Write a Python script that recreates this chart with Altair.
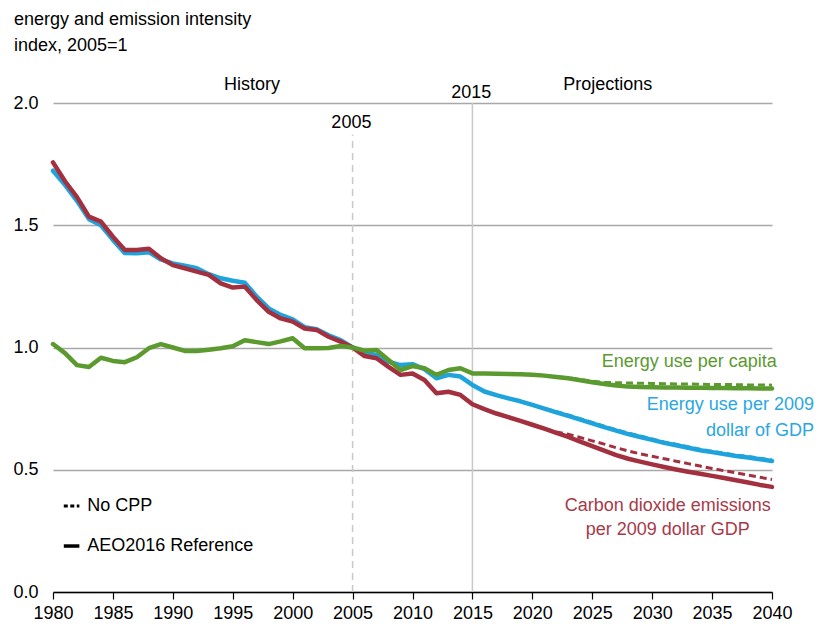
import altair as alt
import pandas as pd

# ---------------- data ----------------
years_hist = list(range(1980, 2016))
percap_hist = [1.014, 0.977, 0.928, 0.920, 0.958, 0.945, 0.940, 0.960, 0.997, 1.014,
               1.000, 0.986, 0.986, 0.991, 0.997, 1.005, 1.030, 1.022, 1.014, 1.025,
               1.038, 0.997, 0.997, 0.998, 1.006, 1.000, 0.987, 0.990, 0.949, 0.908,
               0.924, 0.915, 0.888, 0.908, 0.915, 0.894]
gdp_hist = [1.723, 1.665, 1.600, 1.525, 1.500, 1.440, 1.386, 1.385, 1.390, 1.360,
            1.344, 1.335, 1.324, 1.300, 1.283, 1.273, 1.265, 1.208, 1.160, 1.133,
            1.115, 1.083, 1.075, 1.050, 1.030, 1.000, 0.980, 0.969, 0.942, 0.928,
            0.932, 0.911, 0.874, 0.888, 0.881, 0.847]
co2_hist = [1.757, 1.680, 1.615, 1.535, 1.515, 1.453, 1.399, 1.399, 1.404, 1.365,
            1.337, 1.324, 1.310, 1.297, 1.262, 1.245, 1.249, 1.194, 1.146, 1.119,
            1.106, 1.078, 1.072, 1.044, 1.024, 1.000, 0.965, 0.956, 0.921, 0.888,
            0.894, 0.867, 0.813, 0.819, 0.806, 0.768]

years_proj = list(range(2015, 2041))
percap_ref = [0.894, 0.894, 0.893, 0.892, 0.891, 0.889, 0.885, 0.879, 0.874, 0.866,
              0.858, 0.851, 0.845, 0.840, 0.838, 0.837, 0.836, 0.836, 0.835, 0.835,
              0.834, 0.834, 0.833, 0.833, 0.832, 0.832]
percap_nocpp = [0.894, 0.894, 0.893, 0.892, 0.891, 0.889, 0.885, 0.880, 0.876, 0.869,
                0.862, 0.858, 0.856, 0.855, 0.854, 0.853, 0.852, 0.851, 0.851, 0.850,
                0.849, 0.849, 0.848, 0.847, 0.847, 0.846]
gdp_ref = [0.847, 0.820, 0.805, 0.792, 0.780, 0.765, 0.750, 0.735, 0.720, 0.705,
           0.690, 0.674, 0.660, 0.646, 0.634, 0.622, 0.610, 0.600, 0.590, 0.580,
           0.572, 0.564, 0.556, 0.550, 0.543, 0.536]
gdp_nocpp = [0.847, 0.820, 0.805, 0.792, 0.780, 0.765, 0.751, 0.738, 0.724, 0.709,
             0.694, 0.678, 0.664, 0.650, 0.638, 0.626, 0.614, 0.604, 0.594, 0.584,
             0.576, 0.568, 0.560, 0.554, 0.547, 0.540]
co2_ref = [0.768, 0.748, 0.730, 0.715, 0.700, 0.684, 0.668, 0.651, 0.634, 0.615,
           0.597, 0.578, 0.560, 0.545, 0.533, 0.522, 0.511, 0.501, 0.492, 0.484,
           0.475, 0.466, 0.457, 0.448, 0.438, 0.430]
co2_nocpp = [0.768, 0.748, 0.730, 0.715, 0.700, 0.684, 0.668, 0.655, 0.645, 0.632,
             0.618, 0.605, 0.590, 0.577, 0.565, 0.555, 0.545, 0.535, 0.525, 0.515,
             0.505, 0.496, 0.487, 0.478, 0.469, 0.460]

series_names = ["Energy use per 2009 dollar of GDP",
                "Carbon dioxide emissions per 2009 dollar GDP",
                "Energy use per capita"]
series_colors = ["#1FA3DC", "#A3303F", "#5B9A2F"]
x_ticks = list(range(1980, 2041, 5))
y_ticks = [0.0, 0.5, 1.0, 1.5, 2.0]

# ---------------- tables ----------------
rows = []
ref_sets = [(gdp_hist, gdp_ref, gdp_nocpp), (co2_hist, co2_ref, co2_nocpp),
            (percap_hist, percap_ref, percap_nocpp)]
for name, (h, r, n) in zip(series_names, ref_sets):
    for y, v in zip(years_hist, h):
        rows.append({"year": y, "value": v, "series": name, "case": "AEO2016 Reference"})
    for y, v in zip(years_proj[1:], r[1:]):
        rows.append({"year": y, "value": v, "series": name, "case": "AEO2016 Reference"})
    for y, v in zip(years_proj, n):
        rows.append({"year": y, "value": v, "series": name, "case": "No CPP"})
df = pd.DataFrame(rows)

FONT = "Liberation Sans, Arial, sans-serif"
FS = 18

xs = alt.Scale(domain=[1980, 2040], nice=False, zero=False)
ys = alt.Scale(domain=[0, 2], nice=False)
cs = alt.Scale(domain=series_names, range=series_colors)

x_enc = alt.X("year:Q", scale=xs,
              axis=alt.Axis(values=x_ticks, format="d", title=None, grid=False,
                            domainColor="black", domainWidth=1.5, tickColor="black",
                            tickWidth=1.2, tickSize=7, labelFontSize=FS, labelFont=FONT,
                            labelColor="black", labelPadding=5, labelFlush=False))
y_enc = alt.Y("value:Q", scale=ys,
              axis=alt.Axis(values=y_ticks, format=".1f", title=None, grid=True,
                            gridColor="#A8A8A8", gridWidth=1.5, domain=False, ticks=False,
                            labelFontSize=FS, labelFont=FONT, labelColor="black",
                            labelPadding=15))

# vertical reference lines
vlines = pd.DataFrame({"year": [2005, 2015], "y0": [0.0, 0.0], "y1": [1.87, 2.0],
                       "kind": ["dash", "solid"]})
rule2005 = alt.Chart(vlines[vlines.kind == "dash"]).mark_rule(
    color="#C8C8C8", strokeWidth=1.5, strokeDash=[7, 5]).encode(
    x=alt.X("year:Q", scale=xs), y=alt.Y("y0:Q", scale=ys), y2="y1:Q")
rule2015 = alt.Chart(vlines[vlines.kind == "solid"]).mark_rule(
    color="#C8C8C8", strokeWidth=1.5).encode(
    x=alt.X("year:Q", scale=xs), y=alt.Y("y0:Q", scale=ys), y2="y1:Q")

solid_layers = []
for name in series_names:
    solid_layers.append(
        alt.Chart(df[(df.series == name) & (df.case == "AEO2016 Reference")])
        .mark_line(strokeWidth=4.5, strokeCap="round", strokeJoin="round", clip=False)
        .encode(x=x_enc, y=y_enc,
                color=alt.Color("series:N", scale=cs, legend=None)))
dash_layers = []
for name in series_names:
    dash_layers.append(
        alt.Chart(df[(df.series == name) & (df.case == "No CPP")])
        .mark_line(strokeWidth=3, strokeDash=[7, 4], clip=False)
        .encode(x=alt.X("year:Q", scale=xs), y=alt.Y("value:Q", scale=ys),
                color=alt.Color("series:N", scale=cs, legend=None)))

# annotations
def txt(text, x, y, color="black", align="center", baseline="middle"):
    d = pd.DataFrame({"year": [x], "value": [y], "t": [text]})
    return alt.Chart(d).mark_text(font=FONT, fontSize=FS, color=color, align=align,
                                  baseline=baseline, clip=False).encode(
        x=alt.X("year:Q", scale=xs), y=alt.Y("value:Q", scale=ys), text="t:N")

ann = [
    txt("History", 1996.6, 2.075),
    txt("Projections", 2026.3, 2.075),
    txt("2015", 2014.9, 2.04),
    txt("2005", 2004.9, 1.918),
    txt("Energy use per capita", 2040.4, 0.941, "#5B9A2F", "right"),
    txt("Energy use per 2009", 2043.5, 0.765, "#2AA7E0", "right"),
    txt("dollar of GDP", 2043.5, 0.658, "#2AA7E0", "right"),
    txt("Carbon dioxide emissions", 2031.3, 0.352, "#A83A48"),
    txt("per 2009 dollar GDP", 2031.3, 0.254, "#A83A48"),
    txt("No CPP", 1982.85, 0.352, "black", "left"),
    txt("AEO2016 Reference", 1982.85, 0.188, "black", "left"),
]

leg = pd.DataFrame({"x0": [1980.9, 1980.9], "x1": [2 * 991.1, 2 * 991.1],
                    "value": [0.352, 0.188], "case": ["No CPP", "AEO2016 Reference"]})
leg_dash = alt.Chart(leg[leg.case == "No CPP"]).mark_rule(
    color="black", strokeWidth=3, strokeDash=[4, 2.5]).encode(
    x=alt.X("x0:Q", scale=xs), x2="x1:Q", y=alt.Y("value:Q", scale=ys))
leg_solid = alt.Chart(leg[leg.case == "AEO2016 Reference"]).mark_rule(
    color="black", strokeWidth=3.5).encode(
    x=alt.X("x0:Q", scale=xs), x2="x1:Q", y=alt.Y("value:Q", scale=ys))

title_df = pd.DataFrame({"t": ["energy and emission intensity", "index, 2005=1"],
                         "row": [0, 1]})
title1 = alt.Chart(title_df[title_df.row == 0]).mark_text(
    font=FONT, fontSize=FS, align="left", baseline="alphabetic", color="black",
    clip=False).encode(x=alt.value(-39), y=alt.value(-78), text="t:N")
title2 = alt.Chart(title_df[title_df.row == 1]).mark_text(
    font=FONT, fontSize=FS, align="left", baseline="alphabetic", color="black",
    clip=False).encode(x=alt.value(-39), y=alt.value(-52), text="t:N")

chart = alt.layer(rule2005, rule2015, *solid_layers, *dash_layers, *ann,
                  leg_dash, leg_solid, title1, title2).properties(
    width=719, height=489,
    autosize=alt.AutoSizeParams(type="none"),
    padding={"left": 45, "top": 95, "right": 45, "bottom": 31},
).configure_view(stroke=None, clip=False)

chart.save("out.html", embed_options={"renderer": "svg", "actions": False})
